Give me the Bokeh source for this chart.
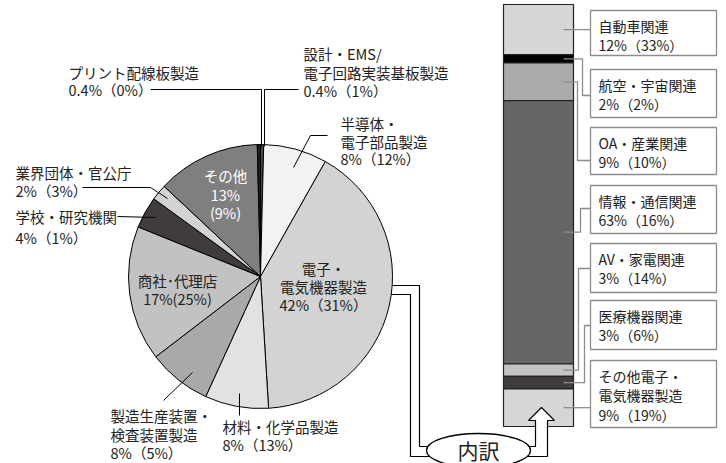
import numpy as np
from bokeh.plotting import figure
from bokeh.models import Range1d
from bokeh.core.properties import value
from bokeh.embed import file_html
from bokeh.resources import INLINE

# ---------------- data ----------------
pie_names = ["設計・EMS/\n電子回路実装基板製造", "半導体・\n電子部品製造", "電子・\n電気機器製造",
             "材料・化学品製造", "製造生産装置・\n検査装置製造", "商社･代理店", "学校・研究機関",
             "業界団体・官公庁", "その他", "プリント配線板製造"]
pie_share = [0.4, 8, 42, 8, 8, 17, 4, 2, 13, 0.4]
pie_prev = [1, 12, 31, 13, 5, 25, 1, 3, 9, 0]
pie_colors = ["#4a4a4a", "#f2f2f2", "#d3d3d3", "#e2e2e2", "#a9a9a9", "#c2c2c2", "#403c3b",
              "#d3d3d3", "#7f7f7f", "#1e1e1e"]

bar_names = ["自動車関連", "航空・宇宙関連", "OA・産業関連", "情報・通信関連", "AV・家電関連",
             "医療機器関連", "その他電子・\n電気機器製造"]
bar_share = [12, 2, 9, 63, 3, 3, 9]
bar_prev = [33, 2, 10, 16, 14, 6, 19]
bar_colors = ["#d6d6d6", "#000000", "#aaaaaa", "#666666", "#c3c3c3", "#403c3b", "#d6d6d6"]

center_label = "内訳"

# ---------------- layout ----------------
FONT = value("Noto Sans CJK JP")
W, H = 726, 463


def Y(v):
    return H - v


p = figure(width=W, height=H, x_range=Range1d(0, W), y_range=Range1d(0, H),
           output_backend="svg", toolbar_location=None, x_axis_location=None,
           y_axis_location=None, min_border=0, outline_line_color=None)
p.grid.visible = False
p.background_fill_color = "white"

# pipe from pie to ellipse (behind pie)
p.patch(x=[380, 419, 419, 445, 445, 410, 410, 380],
        y=[Y(v) for v in [285, 285, 446, 446, 456, 456, 294, 294]],
        fill_color="white", line_color="black", line_width=1.2)

# pie
cx, cy, R = 260, Y(276), 132
tot = float(sum(pie_share))
cum = np.concatenate([[0], np.cumsum(pie_share)]) / tot * 2 * np.pi
start_cw, end_cw = cum[:-1], cum[1:]
p.wedge(x=cx, y=cy, radius=R, radius_units="screen",
        start_angle=list(np.pi / 2 - end_cw), end_angle=list(np.pi / 2 - start_cw),
        fill_color=pie_colors, line_color="black", line_width=1)

# pie leader lines
leaders = [
    ([264, 264, 298], [146, 89, 89]),
    ([293, 310, 327], [167, 135, 135]),
    ([163, 192], [400, 372]),
    ([239, 239], [393, 415]),
    ([82, 150, 167], [187, 187, 198]),
    ([117, 155], [216, 217]),
    ([150, 261, 261], [89, 89, 146]),
]
p.multi_line(xs=[l[0] for l in leaders], ys=[[Y(v) for v in l[1]] for l in leaders],
             line_color="black", line_width=1)

# pie labels: (x, first line y, align, line step, color, style)
pie_layout = [
    (303, 53, "left", 18.5, "#222", "sp"),
    (340, 123, "left", 17.5, "#222", "sp"),
    (323, 268, "center", 18, "#222", "sp"),
    (222, 426, "left", 18, "#222", "sp"),
    (110, 415, "left", 18.5, "#222", "sp"),
    (177, 280, "center", 18, "#222", "tight"),
    (15, 216, "left", 21, "#222", "sp"),
    (15, 172, "left", 18, "#222", "sp"),
    (225, 175, "center", 18.5, "white", "split"),
    (68, 72, "left", 17, "#222", "sp"),
]
tx, ty, tt, ta, tc = [], [], [], [], []
for name, s, q, (x0, y0, al, st, col, sty) in zip(pie_names, pie_share, pie_prev, pie_layout):
    lines = name.split("\n")
    if sty == "split":
        lines += [f"{s:g}%", f"({q:g}%)"]
    elif sty == "tight":
        lines += [f"{s:g}%({q:g}%)"]
    else:
        lines += [f"{s:g}%（{q:g}%）"]
    for i, ln in enumerate(lines):
        tx.append(x0); ty.append(Y(y0 + i * st)); tt.append(ln); ta.append(al); tc.append(col)
p.text(x=tx, y=ty, text=tt, text_align=ta, text_color=tc, text_baseline="middle",
       text_font=FONT, text_font_size="14.5px")

# stacked bar
bx0, bx1, btop, bbot = 503, 573, 4, 426
k = (bbot - btop) / float(sum(bar_share))
bcum = np.concatenate([[0], np.cumsum(bar_share)])
seg_top = btop + k * bcum[:-1]
seg_bot = btop + k * bcum[1:]
p.quad(left=bx0, right=bx1, top=[Y(v) for v in seg_top], bottom=[Y(v) for v in seg_bot],
       fill_color=bar_colors, line_color="#222", line_width=1.2)

# arrow into bar
p.patch(x=[520, 535, 535, 528, 541, 554, 547, 547, 520],
        y=[Y(v) for v in [446, 446, 420, 420, 407, 420, 420, 456, 456]],
        fill_color="white", line_color="black", line_width=1.2)
p.ellipse(x=478, y=Y(450), width=104, height=34, fill_color="white",
          line_color="black", line_width=1.3)
p.text(x=[478], y=[Y(449)], text=[center_label], text_align="center", text_baseline="middle",
       text_font=FONT, text_font_size="21px", text_color="#222")

# connectors from bar to boxes
seg_mid = (seg_top + seg_bot) / 2
route_x = [None, 582, 577, 580, 578, 584, None]
box_y = [None, 95, 160, 208, 268, 325, None]
cxs, cys = [], []
for m, rx, by in zip(seg_mid, route_x, box_y):
    if rx is None:
        cxs.append([563, 590]); cys.append([Y(m), Y(m)])
    else:
        cxs.append([563, rx, rx, 590]); cys.append([Y(m), Y(m), Y(by), Y(by)])
p.multi_line(xs=cxs, ys=cys, line_color="#8c8c8c", line_width=1.3)

# boxes
box_top = [10, 69, 127, 185, 243, 300, 360]
box_bot = [55, 117, 174, 233, 292, 349, 427]
p.quad(left=590, right=716, top=[Y(v) for v in box_top], bottom=[Y(v) for v in box_bot],
       fill_color="white", line_color="#8c8c8c", line_width=1.3)
bx, by_, bt = [], [], []
for name, s, q, t0 in zip(bar_names, bar_share, bar_prev, box_top):
    lines = name.split("\n") + [f"{s:g}%（{q:g}%）"]
    for i, ln in enumerate(lines):
        bx.append(598); by_.append(Y(t0 + 15 + i * 19.5)); bt.append(ln)
p.text(x=bx, y=by_, text=bt, text_align="left", text_baseline="middle",
       text_font=FONT, text_font_size="14px", text_color="#222")

open("out.html", "w").write(file_html(p, INLINE))
